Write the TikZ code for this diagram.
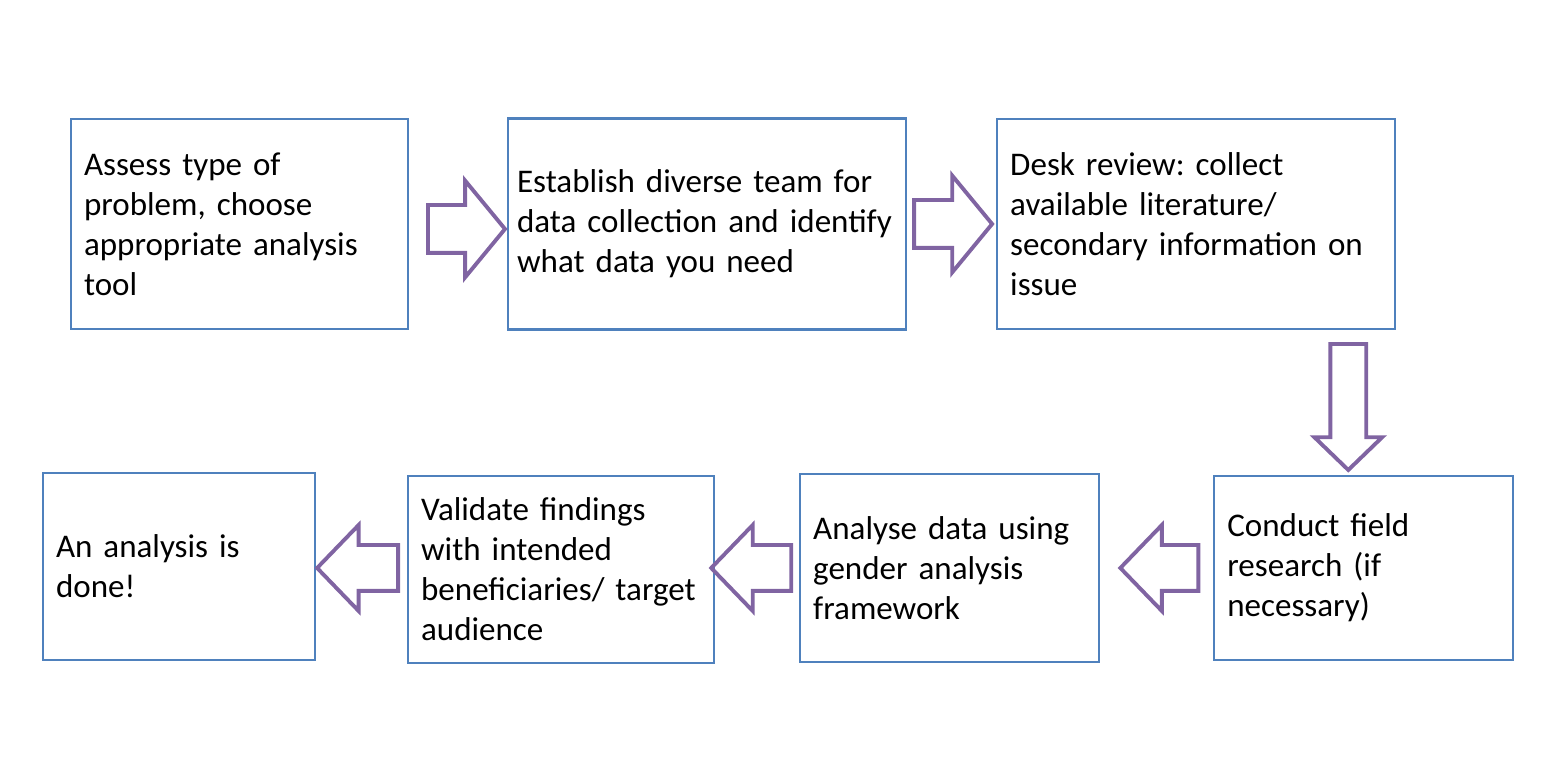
\documentclass[tikz,border=0pt]{standalone}
\usepackage{fontspec}
\setmainfont{Carlito}
\usetikzlibrary{positioning,shapes.arrows}

\definecolor{boxblue}{HTML}{4F81BD}
\definecolor{arrowpurple}{HTML}{8064A2}

\begin{document}
\begin{tikzpicture}[
	box/.style={draw=boxblue, line width=0.6pt, align=left, inner xsep=0.13cm,
		font=\fontsize{9.4}{11.4}\selectfont\frenchspacing},
	blk/.style={draw=arrowpurple, line width=1.1pt, single arrow}]
	\useasboundingbox (0,0) rectangle (15.48,-7.72);

	% top row
	\node[box, text width=3.11cm, minimum height=2.10cm] (assess) at (2.395,-2.24)
		{Assess type of\\problem, choose\\appropriate analysis\\tool};
	\node[box, text width=3.80cm, inner xsep=0.09cm, minimum height=2.11cm] (team) [right=0.98cm of assess]
		{Establish diverse team for\\data collection and identify\\what data you need};
	\node[box, text width=3.72cm, minimum height=2.10cm] (desk) [right=0.89cm of team]
		{Desk review: collect\\available literature/\\secondary information on\\issue};

	% bottom row
	\node[box, text width=2.46cm, minimum height=1.87cm] (done) at (1.79,-5.665)
		{An analysis is\\done!};
	\node[box, text width=2.80cm, minimum height=1.87cm] (validate) [right=0.91cm of done, yshift=-0.03cm]
		{Validate findings\\with intended\\beneficiaries/ target\\audience};
	\node[box, text width=2.73cm, minimum height=1.88cm] (analyse) [right=0.84cm of validate, yshift=0.015cm]
		{Analyse data using\\gender analysis\\framework};
	\node[box, text width=2.73cm, minimum height=1.84cm] (field) [right=1.13cm of analyse]
		{Conduct field\\research (if\\necessary)};

	% block arrows
	\node[blk, inner sep=0.22cm, minimum height=0.77cm, single arrow head extend=0.245cm,
		single arrow tip angle=101, right=0.17cm of assess, yshift=-0.05cm, anchor=tail] (a1) {};
	\node[blk, inner sep=0.22cm, minimum height=0.78cm, single arrow head extend=0.245cm,
		single arrow tip angle=101, right=0.05cm of team, anchor=tail] (a2) {};
	\node[blk, shape border rotate=270, inner sep=0.16cm, minimum height=1.26cm,
		single arrow head extend=0.16cm, single arrow tip angle=92,
		below=0.12cm of desk.south east, xshift=-0.48cm, anchor=tail] (a3) {};
	\node[blk, shape border rotate=180, inner sep=0.21cm, minimum height=0.78cm,
		single arrow head extend=0.20cm, single arrow tip angle=92,
		left=0.13cm of field, anchor=tail] (a4) {};
	\node[blk, shape border rotate=180, inner sep=0.21cm, minimum height=0.80cm,
		single arrow head extend=0.20cm, single arrow tip angle=92,
		left=0.06cm of analyse, anchor=tail] (a5) {};
	\node[blk, shape border rotate=180, inner sep=0.21cm, minimum height=0.81cm,
		single arrow head extend=0.20cm, single arrow tip angle=92,
		left=0.07cm of validate, yshift=0.015cm, anchor=tail] (a6) {};

\end{tikzpicture}
\end{document}
